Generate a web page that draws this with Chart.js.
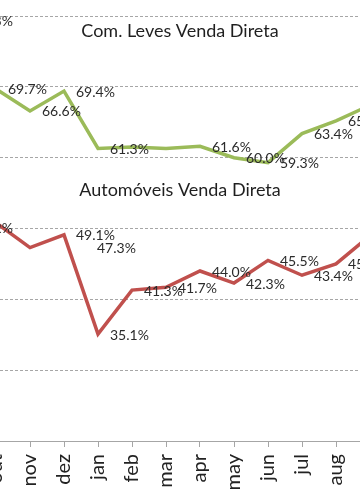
<!DOCTYPE html>
<html>
<head>
<meta charset="utf-8">
<script src="https://cdn.jsdelivr.net/npm/chart.js@4.4.1/dist/chart.umd.min.js"></script>
<style>
  html, body { margin: 0; padding: 0; background: #fff; overflow: hidden; }
  #moldura { position: relative; width: 360px; height: 504px; overflow: hidden; }
  #caixa { position: absolute; left: -55px; top: 0; width: 456px; height: 504px; }
</style>
</head>
<body>
<div id="moldura">
  <div id="caixa"><canvas id="grafico" width="456" height="504"></canvas></div>
</div>
<script>
// meses visiveis (o primeiro e o ultimo ficam cortados nas bordas)
const meses = ['set', 'out', 'nov', 'dez', 'jan', 'feb', 'mar', 'apr', 'may', 'jun', 'jul', 'aug', 'set']
const comLeves = [79.3, 69.7, 66.6, 69.4, 61.3, 61.5, 61.3, 61.6, 60.0, 59.3, 63.4, 65.2, 67.4]
const automoveis = [50.2, 50.8, 47.3, 49.1, 35.1, 41.3, 41.7, 44.0, 42.3, 45.5, 43.4, 45.0, 49.0]
const titulos = ['Com. Leves Venda Direta', 'Automóveis Venda Direta']

// rótulos que não aparecem na figura
const ocultos = [[5, 6], [1]]
// rótulo de nov (automóveis) foi arrastado para a direita
const arrastados = { '1-2': [67, 1] }

const fonte = 'Lato, "Open Sans", sans-serif'

const rotulos = {
  id: 'rotulos',
  afterDatasetsDraw(chart) {
    const ctx = chart.ctx
    ctx.save()
    ctx.font = '14px ' + fonte
    ctx.fillStyle = '#2b2b2b'
    ctx.textAlign = 'left'
    ctx.textBaseline = 'middle'
    chart.data.datasets.forEach((ds, i) => {
      const meta = chart.getDatasetMeta(i)
      meta.data.forEach((pt, j) => {
        if (ocultos[i].includes(j)) return
        const d = arrastados[i + '-' + j] || [12, 1]
        ctx.fillText(ds.data[j].toFixed(1) + '%', pt.x + d[0], pt.y + d[1])
      })
    })
    // títulos dentro da área do gráfico
    ctx.font = '18px ' + fonte
    ctx.fillStyle = '#1f1f1f'
    ctx.textAlign = 'center'
    ctx.fillText(titulos[0], 235, 31)
    ctx.fillText(titulos[1], 235, 190)
    ctx.restore()
  }
}

new Chart(document.getElementById('grafico'), {
  type: 'line',
  data: {
    labels: meses,
    datasets: [
      { label: titulos[0], data: comLeves, borderColor: '#9BBB59', borderWidth: 3.5, pointRadius: 0, tension: 0 },
      { label: titulos[1], data: automoveis, borderColor: '#C0504D', borderWidth: 3.5, pointRadius: 0, tension: 0 }
    ]
  },
  options: {
    responsive: false,
    animation: false,
    layout: { padding: { top: 16, left: 0, right: 0, bottom: 0 } },
    plugins: { legend: { display: false }, tooltip: { enabled: false } },
    scales: {
      x: {
        offset: true,
        afterFit: s => { s.height = 63 },
        grid: { drawOnChartArea: false, drawTicks: true, tickLength: 6, color: '#a6a6a6' },
        border: { display: true, color: '#a6a6a6', width: 1 },
        ticks: { minRotation: 90, maxRotation: 90, padding: 7, color: '#222', font: { family: fonte, size: 20 }, autoSkip: false }
      },
      y: {
        min: 20,
        max: 80,
        afterFit: s => { s.width = 0 },
        ticks: { display: false, stepSize: 10 },
        grid: { drawTicks: false, color: c => c.tick && c.tick.value === 20 ? 'rgba(0,0,0,0)' : '#a6a6a6' },
        border: { display: false, dash: [3, 2] }
      }
    }
  },
  plugins: [rotulos]
})
</script>
</body>
</html>
